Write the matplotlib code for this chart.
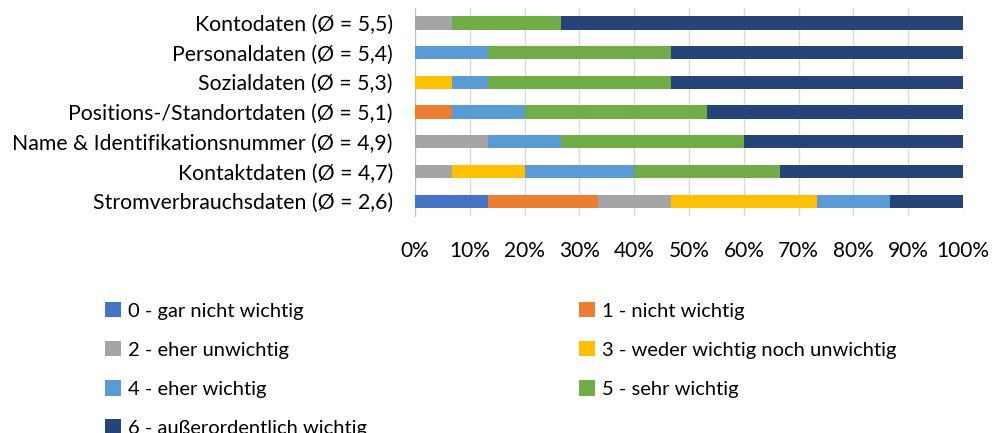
import matplotlib.pyplot as plt
import numpy as np

plt.rcParams['font.family'] = ['Lato', 'DejaVu Sans']

categories = [
    'Kontodaten (Ø = 5,5)',
    'Personaldaten (Ø = 5,4)',
    'Sozialdaten (Ø = 5,3)',
    'Positions-/Standortdaten (Ø = 5,1)',
    'Name & Identifikationsnummer (Ø = 4,9)',
    'Kontaktdaten (Ø = 4,7)',
    'Stromverbrauchsdaten (Ø = 2,6)',
]
series = [
    '0 - gar nicht wichtig',
    '1 - nicht wichtig',
    '2 - eher unwichtig',
    '3 - weder wichtig noch unwichtig',
    '4 - eher wichtig',
    '5 - sehr wichtig',
    '6 - außerordentlich wichtig',
]
colors = ['#4472C4', '#ED7D31', '#A5A5A5', '#FFC000', '#5B9BD5', '#70AD47', '#264478']

# answer counts per category (15 respondents), columns = rating 0..6
counts = np.array([
    [0, 0, 1, 0, 0, 3, 11],
    [0, 0, 0, 0, 2, 5, 8],
    [0, 0, 0, 1, 1, 5, 8],
    [0, 1, 0, 0, 2, 5, 7],
    [0, 0, 2, 0, 2, 5, 6],
    [0, 0, 1, 2, 3, 4, 5],
    [2, 3, 2, 4, 2, 0, 2],
])
shares = counts / counts.sum(axis=1, keepdims=True)

fig = plt.figure(figsize=(10.03, 4.33), dpi=100)
ax = fig.add_axes([0.4138, 0.501, 0.5464, 0.4805])

y = np.arange(len(categories))
left = np.zeros(len(categories))
handles = []
for i, name in enumerate(series):
    b = ax.barh(y, shares[:, i], left=left, height=0.45, color=colors[i],
                label=name, zorder=3)
    handles.append(b)
    left += shares[:, i]

ax.set_xlim(0, 1)
ax.set_ylim(len(categories) - 0.5, -0.5)
ax.set_yticks(y)
ax.set_yticklabels(categories, fontsize=15.3)
ax.set_xticks(np.linspace(0, 1, 11))
ax.set_xticklabels([f'{int(v)}%' for v in np.linspace(0, 100, 11)], fontsize=15)
ax.tick_params(axis='both', length=0, colors='#000000')
ax.tick_params(axis='y', pad=16)
ax.tick_params(axis='x', pad=18)
ax.grid(axis='x', color='#D9D9D9', linewidth=1, zorder=0)
for s in ['top', 'right', 'bottom']:
    ax.spines[s].set_visible(False)
ax.spines['left'].set_color('#BFBFBF')

# legend in two columns, filled row by row
leg_kw = dict(loc='upper left', frameon=False, fontsize=14.5, handlelength=0.8,
              handleheight=0.8, handletextpad=0.35, labelspacing=1.06,
              borderpad=0, borderaxespad=0)
left_idx = [0, 2, 4, 6]
right_idx = [1, 3, 5]
fig.legend(handles=[handles[i] for i in left_idx],
           labels=[series[i] for i in left_idx],
           bbox_to_anchor=(105 / 1003, 1 - 302 / 433), **leg_kw)
fig.legend(handles=[handles[i] for i in right_idx],
           labels=[series[i] for i in right_idx],
           bbox_to_anchor=(579 / 1003, 1 - 302 / 433), **leg_kw)

fig.savefig('out.png', dpi=100)
